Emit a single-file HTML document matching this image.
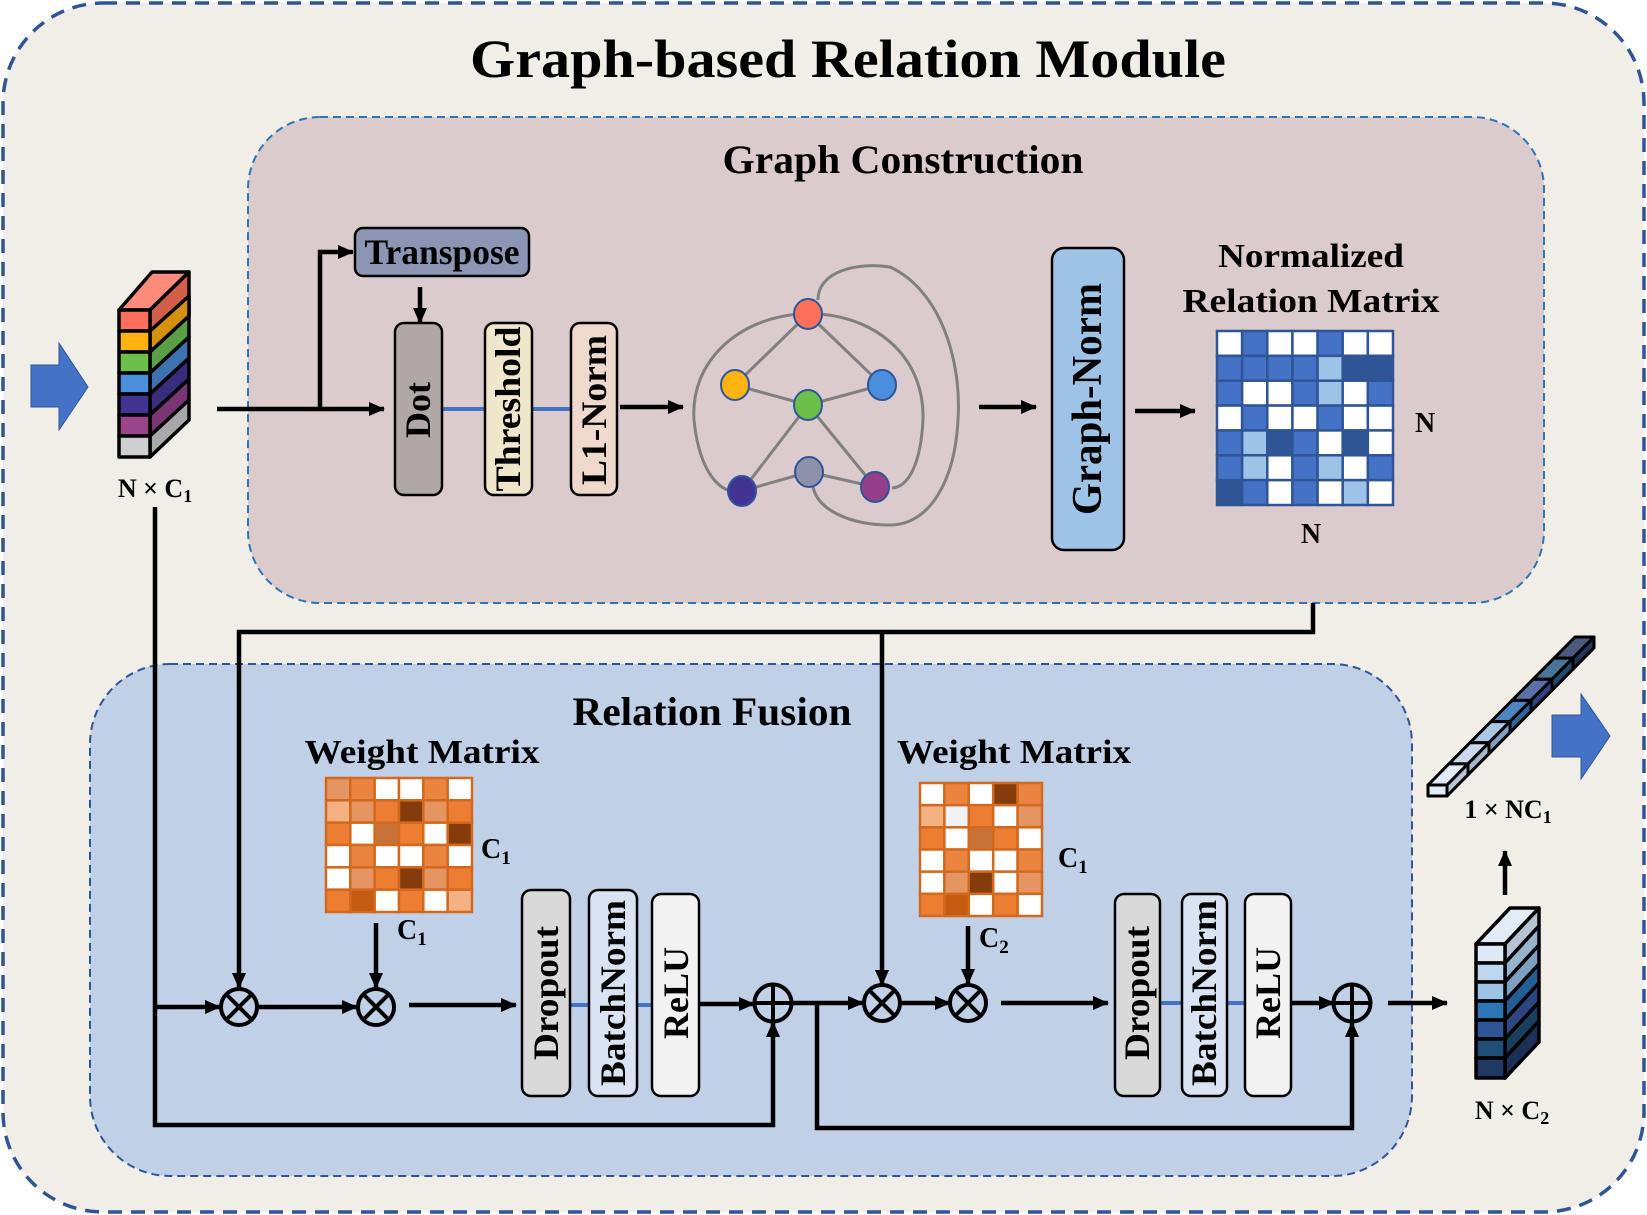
<!DOCTYPE html>
<html><head><meta charset="utf-8"><style>
html,body{margin:0;padding:0;background:#fff;}
svg{display:block;}
text{font-family:"Liberation Serif",serif;font-weight:bold;fill:#000;}
</style></head><body>
<svg width="1647" height="1215" viewBox="0 0 1647 1215" xmlns="http://www.w3.org/2000/svg">
<defs>
<marker id="ah" markerUnits="userSpaceOnUse" markerWidth="16" markerHeight="14" refX="15" refY="7" orient="auto"><path d="M0,0 L16,7 L0,14 Z" fill="#000"/></marker>
</defs>
<!-- outer -->
<rect x="3" y="3" width="1641" height="1209" rx="100" fill="#F1EEE7" stroke="#2F5597" stroke-width="3.5" stroke-dasharray="14,9"/>
<text x="848" y="77" font-size="54" text-anchor="middle" textLength="756" lengthAdjust="spacingAndGlyphs">Graph-based Relation Module</text>
<!-- graph construction box -->
<rect x="248" y="117" width="1296" height="486" rx="72" fill="#DBCBCD" stroke="#2E75B6" stroke-width="2" stroke-dasharray="8,5"/>
<text x="903" y="173" font-size="40" text-anchor="middle" textLength="361" lengthAdjust="spacingAndGlyphs">Graph Construction</text>
<!-- relation fusion box -->
<rect x="90" y="664" width="1322" height="512" rx="80" fill="#C0D0E6" stroke="#2F5597" stroke-width="2" stroke-dasharray="8,5"/>
<text x="712" y="725" font-size="40" text-anchor="middle" textLength="279" lengthAdjust="spacingAndGlyphs">Relation Fusion</text>

<!-- input arrow -->
<polygon points="31,365 59,365 59,343 88,387 59,430 59,407 31,407" fill="#4472C4" stroke="#2F5597" stroke-width="1"/>
<!-- input cube -->
<g stroke="#000" stroke-width="3.5" stroke-linejoin="round">
<polygon points="119,310 152,272 189,272 150,310" fill="#FF8C7A"/>
<polygon points="150,310 189,272 189,316 150,331" fill="#D35F4A"/>
<polygon points="150,331 189,296 189,316 150,352" fill="#D4920C"/>
<polygon points="150,352 189,316 189,337 150,373" fill="#5A9E45"/>
<polygon points="150,373 189,337 189,358 150,394" fill="#3D72B0"/>
<polygon points="150,394 189,358 189,379 150,415" fill="#392C7A"/>
<polygon points="150,415 189,379 189,400 150,436" fill="#7A3573"/>
<polygon points="150,436 189,400 189,420 150,457" fill="#A8A8A8"/>
<rect x="119" y="310" width="31" height="21" fill="#FF6F5B"/>
<rect x="119" y="331" width="31" height="21" fill="#FFB30F"/>
<rect x="119" y="352" width="31" height="21" fill="#6CC04A"/>
<rect x="119" y="373" width="31" height="21" fill="#4A8FDB"/>
<rect x="119" y="394" width="31" height="21" fill="#433493"/>
<rect x="119" y="415" width="31" height="21" fill="#9A4489"/>
<rect x="119" y="436" width="31" height="21" fill="#CFCFCF"/>
</g>
<text x="155" y="497" font-size="26" text-anchor="middle">N × C<tspan font-size="18" dy="5">1</tspan></text>

<!-- main arrows -->
<g stroke="#000" stroke-width="4.5" fill="none">
<line x1="217" y1="409" x2="384" y2="409" marker-end="url(#ah)"/>
<polyline points="320,409 320,252 353,252" marker-end="url(#ah)"/>
<line x1="420" y1="287" x2="420" y2="323" marker-end="url(#ah)"/>
</g>
<rect x="355" y="228" width="174" height="48" rx="8" fill="#8C96B4" stroke="#000" stroke-width="2.5"/>
<text x="442" y="264" font-size="36" text-anchor="middle" textLength="155" lengthAdjust="spacingAndGlyphs">Transpose</text>
<!-- connectors -->
<line x1="442" y1="409" x2="485" y2="409" stroke="#4472C4" stroke-width="4"/>
<line x1="532" y1="409" x2="571" y2="409" stroke="#4472C4" stroke-width="4"/>
<rect x="395" y="323" width="47" height="172" rx="9" fill="#B0A8A8" stroke="#000" stroke-width="2.5"/>
<rect x="485" y="323" width="47" height="172" rx="9" fill="#EFE6CC" stroke="#000" stroke-width="2.5"/>
<rect x="571" y="323" width="46" height="172" rx="9" fill="#EED9CC" stroke="#000" stroke-width="2.5"/>
<text transform="translate(418,410) rotate(-90)" font-size="36" text-anchor="middle" dominant-baseline="central">Dot</text>
<text transform="translate(508,409) rotate(-90)" font-size="36" text-anchor="middle" dominant-baseline="central" textLength="165" lengthAdjust="spacingAndGlyphs">Threshold</text>
<text transform="translate(594,410) rotate(-90)" font-size="36" text-anchor="middle" dominant-baseline="central" textLength="150" lengthAdjust="spacingAndGlyphs">L1-Norm</text>
<line x1="620" y1="407" x2="683" y2="407" stroke="#000" stroke-width="4.5" marker-end="url(#ah)"/>

<!-- graph -->
<g stroke="#808080" stroke-width="3" fill="none">
<path d="M800,314 C740,318 690,360 694,420 C698,460 712,488 734,492"/>
<path d="M818,314 C880,318 925,360 923,420 C921,460 910,487 892,488"/>
<path d="M818,300 C818,270 860,262 890,267 C940,290 962,360 958,420 C955,480 930,525 890,525 C850,525 818,510 813,487"/>
<line x1="808" y1="314" x2="735" y2="385"/>
<line x1="808" y1="314" x2="882" y2="385"/>
<line x1="735" y1="385" x2="808" y2="405"/>
<line x1="808" y1="405" x2="882" y2="385"/>
<line x1="808" y1="405" x2="742" y2="491"/>
<line x1="808" y1="405" x2="875" y2="487"/>
<line x1="742" y1="491" x2="809" y2="472"/>
<line x1="809" y1="472" x2="875" y2="487"/>
</g>
<g stroke="#2F5597" stroke-width="2">
<ellipse cx="808" cy="314" rx="14" ry="15" fill="#FF6F5B"/>
<ellipse cx="735" cy="385" rx="14" ry="15" fill="#FFB30F"/>
<ellipse cx="882" cy="385" rx="14" ry="15" fill="#4A8FDB"/>
<ellipse cx="808" cy="405" rx="14" ry="15" fill="#6CC04A"/>
<ellipse cx="742" cy="491" rx="14" ry="15" fill="#433493"/>
<ellipse cx="809" cy="472" rx="14" ry="15" fill="#8E8FA8"/>
<ellipse cx="875" cy="487" rx="14" ry="15" fill="#943F88"/>
</g>
<line x1="979" y1="407" x2="1036" y2="407" stroke="#000" stroke-width="4.5" marker-end="url(#ah)"/>
<rect x="1052" y="248" width="72" height="302" rx="12" fill="#9DC3E6" stroke="#000" stroke-width="2.5"/>
<text transform="translate(1088,399) rotate(-90)" font-size="42" text-anchor="middle" dominant-baseline="central" textLength="232" lengthAdjust="spacingAndGlyphs">Graph-Norm</text>
<line x1="1135" y1="411" x2="1195" y2="411" stroke="#000" stroke-width="4.5" marker-end="url(#ah)"/>
<text x="1311" y="267" font-size="34" text-anchor="middle" textLength="186" lengthAdjust="spacingAndGlyphs">Normalized</text>
<text x="1311" y="312" font-size="34" text-anchor="middle" textLength="257" lengthAdjust="spacingAndGlyphs">Relation Matrix</text>
<g id="nm" stroke="#2F5597" stroke-width="2.5"></g>
<text x="1415" y="432" font-size="28">N</text>
<text x="1311" y="543" font-size="28" text-anchor="middle">N</text>

<!-- connector lines -->
<g stroke="#000" stroke-width="4.5" fill="none">
<polyline points="1313,603 1313,632 239,632 239,988" marker-end="url(#ah)"/>
<line x1="882" y1="632" x2="882" y2="985" marker-end="url(#ah)"/>
<polyline points="155,507 155,1125 773,1125 773,1022" marker-end="url(#ah)"/>
<line x1="155" y1="1007" x2="220" y2="1007" marker-end="url(#ah)"/>
<line x1="257" y1="1007" x2="357" y2="1007" marker-end="url(#ah)"/>
<line x1="376" y1="923" x2="376" y2="988" marker-end="url(#ah)"/>
<line x1="409" y1="1005" x2="516" y2="1005" marker-end="url(#ah)"/>
<line x1="699" y1="1004" x2="754" y2="1004" marker-end="url(#ah)"/>
<line x1="791" y1="1003" x2="863" y2="1003" marker-end="url(#ah)"/>
<polyline points="817,1003 817,1128 1352,1128 1352,1022" marker-end="url(#ah)"/>
<line x1="900" y1="1003" x2="950" y2="1003" marker-end="url(#ah)"/>
<line x1="968" y1="926" x2="968" y2="984" marker-end="url(#ah)"/>
<line x1="1001" y1="1003" x2="1108" y2="1003" marker-end="url(#ah)"/>
<line x1="1291" y1="1003" x2="1334" y2="1003" marker-end="url(#ah)"/>
<line x1="1388" y1="1003" x2="1447" y2="1003" marker-end="url(#ah)"/>
<line x1="1505" y1="895" x2="1505" y2="851" marker-end="url(#ah)"/>
</g>
<!-- operators -->
<g stroke="#000" stroke-width="4" fill="none">
<circle cx="239" cy="1007" r="18"/><path d="M226,994 L252,1020 M252,994 L226,1020"/>
<circle cx="376" cy="1007" r="18"/><path d="M363,994 L389,1020 M389,994 L363,1020"/>
<circle cx="882" cy="1003" r="18"/><path d="M869,990 L895,1016 M895,990 L869,1016"/>
<circle cx="968" cy="1003" r="18"/><path d="M955,990 L981,1016 M981,990 L955,1016"/>
<circle cx="773" cy="1003" r="18.5"/><path d="M755,1003 H791 M773,985 V1021"/>
<circle cx="1352" cy="1003" r="18.5"/><path d="M1334,1003 H1370 M1352,985 V1021"/>
</g>
<!-- weight matrices -->
<text x="422" y="763" font-size="34" text-anchor="middle" textLength="235" lengthAdjust="spacingAndGlyphs">Weight Matrix</text>
<g id="w1" stroke="#D2691E" stroke-width="2.5"></g>
<text x="481" y="858" font-size="28">C<tspan font-size="19" dy="6">1</tspan></text>
<text x="397" y="939" font-size="28">C<tspan font-size="19" dy="6">1</tspan></text>
<text x="1014" y="763" font-size="34" text-anchor="middle" textLength="234" lengthAdjust="spacingAndGlyphs">Weight Matrix</text>
<g id="w2" stroke="#D2691E" stroke-width="2.5"></g>
<text x="1058" y="867" font-size="28">C<tspan font-size="19" dy="6">1</tspan></text>
<text x="979" y="947" font-size="28">C<tspan font-size="19" dy="6">2</tspan></text>

<!-- fusion blocks 1 -->
<line x1="570" y1="1005" x2="589" y2="1005" stroke="#4472C4" stroke-width="4"/>
<line x1="637" y1="1005" x2="652" y2="1005" stroke="#4472C4" stroke-width="4"/>
<rect x="522" y="890" width="48" height="206" rx="9" fill="#D9D9D9" stroke="#000" stroke-width="2.5"/>
<rect x="589" y="890" width="48" height="206" rx="9" fill="#DAE3F3" stroke="#000" stroke-width="2.5"/>
<rect x="652" y="894" width="47" height="202" rx="9" fill="#F2F2F2" stroke="#000" stroke-width="2.5"/>
<text transform="translate(546,993) rotate(-90)" font-size="36" text-anchor="middle" dominant-baseline="central" textLength="134" lengthAdjust="spacingAndGlyphs">Dropout</text>
<text transform="translate(613,993) rotate(-90)" font-size="36" text-anchor="middle" dominant-baseline="central" textLength="186" lengthAdjust="spacingAndGlyphs">BatchNorm</text>
<text transform="translate(676,993) rotate(-90)" font-size="36" text-anchor="middle" dominant-baseline="central" textLength="92" lengthAdjust="spacingAndGlyphs">ReLU</text>
<!-- fusion blocks 2 -->
<line x1="1160" y1="1003" x2="1182" y2="1003" stroke="#4472C4" stroke-width="4"/>
<line x1="1227" y1="1003" x2="1245" y2="1003" stroke="#4472C4" stroke-width="4"/>
<rect x="1115" y="894" width="45" height="202" rx="9" fill="#D9D9D9" stroke="#000" stroke-width="2.5"/>
<rect x="1182" y="894" width="45" height="202" rx="9" fill="#DAE3F3" stroke="#000" stroke-width="2.5"/>
<rect x="1245" y="894" width="46" height="202" rx="9" fill="#F2F2F2" stroke="#000" stroke-width="2.5"/>
<text transform="translate(1137,993) rotate(-90)" font-size="36" text-anchor="middle" dominant-baseline="central" textLength="134" lengthAdjust="spacingAndGlyphs">Dropout</text>
<text transform="translate(1204,993) rotate(-90)" font-size="36" text-anchor="middle" dominant-baseline="central" textLength="186" lengthAdjust="spacingAndGlyphs">BatchNorm</text>
<text transform="translate(1268,993) rotate(-90)" font-size="36" text-anchor="middle" dominant-baseline="central" textLength="92" lengthAdjust="spacingAndGlyphs">ReLU</text>

<!-- output cube -->
<g stroke="#000" stroke-width="3.5" stroke-linejoin="round">
<polygon points="1476,944 1510,908 1539,908 1505,944" fill="#E2ECF7"/>
<polygon points="1505,944 1539,908 1539,926 1505,963" fill="#B5C4D3"/>
<polygon points="1505,963 1539,926 1539,945 1505,982" fill="#98B3CC"/>
<polygon points="1505,982 1539,945 1539,964 1505,1001" fill="#7EA0C0"/>
<polygon points="1505,1001 1539,964 1539,983 1505,1020" fill="#235F96"/>
<polygon points="1505,1020 1539,983 1539,1002 1505,1039" fill="#2B4680"/>
<polygon points="1505,1039 1539,1002 1539,1021 1505,1058" fill="#1A3F5E"/>
<polygon points="1505,1058 1539,1021 1539,1042 1505,1078" fill="#1C2F55"/>
<rect x="1476" y="944" width="29" height="19" fill="#DEEBF7"/>
<rect x="1476" y="963" width="29" height="19" fill="#BDD7EE"/>
<rect x="1476" y="982" width="29" height="19" fill="#9DC3E6"/>
<rect x="1476" y="1001" width="29" height="19" fill="#2E75B6"/>
<rect x="1476" y="1020" width="29" height="19" fill="#2F5597"/>
<rect x="1476" y="1039" width="29" height="19" fill="#1F4E79"/>
<rect x="1476" y="1058" width="29" height="20" fill="#203864"/>
</g>
<text x="1512" y="1119" font-size="26" text-anchor="middle">N × C<tspan font-size="18" dy="5">2</tspan></text>
<g id="bar" stroke="#000" stroke-width="3" stroke-linejoin="round"></g>
<text x="1508" y="818" font-size="26" text-anchor="middle">1 × NC<tspan font-size="18" dy="5">1</tspan></text>
<polygon points="1552,715 1581,715 1581,694 1610,736 1581,779 1581,757 1552,757" fill="#4472C4" stroke="#2F5597" stroke-width="1"/>

<script>
(function(){
var NS="http://www.w3.org/2000/svg";
function R(g,x,y,w,h,f){var r=document.createElementNS(NS,"rect");r.setAttribute("x",x);r.setAttribute("y",y);r.setAttribute("width",w);r.setAttribute("height",h);r.setAttribute("fill",f);g.appendChild(r);}
function P(g,pts,f){var p=document.createElementNS(NS,"polygon");p.setAttribute("points",pts);p.setAttribute("fill",f);g.appendChild(p);}
var W="#FFFFFF",M="#4472C4",L="#9DC3E6",D="#2F5597";
var nm=[[W,M,W,W,M,W,W],[M,M,M,M,L,D,D],[M,W,W,M,L,W,M],[W,M,W,W,M,W,W],[M,L,D,M,W,D,W],[M,L,W,M,L,W,M],[D,M,W,M,W,L,W]];
var g=document.getElementById("nm");var cw=(1393-1217)/7,ch=(505-331)/7;
for(var i=0;i<7;i++)for(var j=0;j<7;j++)R(g,1217+j*cw,331+i*ch,cw,ch,nm[i][j]);
var O="#ED7D31",Lo="#E59562",Pa="#F4B183",Dk="#843C0C",Md="#C55A11",Br="#C87137",Wo="#FFFFFF",Gw="#F0F2F5",O2="#EB8441";
var w1=[[Lo,O2,Wo,Wo,O2,Wo],[Pa,Lo,O,Dk,Lo,O],[O,Wo,Br,O,Wo,Dk],[Wo,O2,Wo,Wo,O2,Wo],[Wo,Lo,O,Dk,Lo,O],[O,Md,Wo,O,Wo,Pa]];
g=document.getElementById("w1");cw=(472-326)/6;ch=(912-778)/6;
for(i=0;i<6;i++)for(j=0;j<6;j++)R(g,326+j*cw,778+i*ch,cw,ch,w1[i][j]);
var w2=[[Wo,O2,Wo,Dk,O2],[Pa,Gw,O,Wo,Lo],[O,Wo,Br,O,Wo],[Wo,O2,Wo,Wo,O2],[Wo,Lo,Dk,Wo,Lo],[O,Md,Wo,O,Wo]];
g=document.getElementById("w2");cw=(1042-920)/5;ch=(916-783)/6;
for(i=0;i<6;i++)for(j=0;j<5;j++)R(g,920+j*cw,783+i*ch,cw,ch,w2[i][j]);
g=document.getElementById("bar");
var tops=["#E2ECF7","#C9DAEE","#A9C8E6","#4A87C0","#5B6FA8","#4A7496","#4B5A7A"];
var sides=["#B8C6D4","#A3B8CC","#7FA2C2","#2C65A0","#2E4585","#1F4A6E","#233659"];
var ex=147/7,ey=-148/7;
for(var k=6;k>=0;k--){
 var x0=1428+k*ex,y0=785+k*ey,x1=x0+ex,y1=y0+ey;
 P(g,[x0,y0,x1,y1,x1+19,y1,x0+19,y0].join(","),tops[k]);
 P(g,[x0+19,y0,x1+19,y1,x1+19,y1+11,x0+19,y0+11].join(","),sides[k]);
}
R(g,1428,785,19,11,"#E2ECF7");
})();
</script>
</svg>
</body></html>
